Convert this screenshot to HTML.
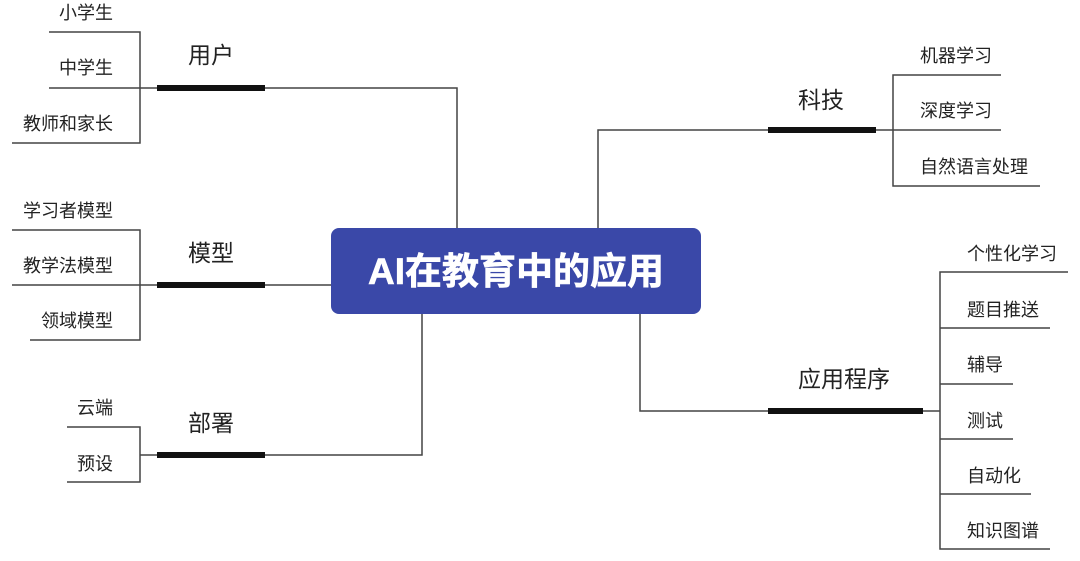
<!DOCTYPE html>
<html><head><meta charset="utf-8"><style>
html,body{margin:0;padding:0;background:#fff;width:1080px;height:561px;overflow:hidden}
svg text{font-family:"Liberation Sans","Noto Sans CJK SC",sans-serif;fill:#222}
.s{font-size:18px}.m{font-size:23px}
</style></head><body>
<svg width="1080" height="561" viewBox="0 0 1080 561" xmlns="http://www.w3.org/2000/svg">
<g stroke="#444" stroke-width="1.5" fill="none">
<polyline points="265,88 457,88 457,228"/>
<polyline points="49,32 140,32 140,143 12,143"/>
<line x1="49" y1="88" x2="157" y2="88"/>
<line x1="265" y1="285" x2="331" y2="285"/>
<polyline points="12,230 140,230 140,340 30,340"/>
<line x1="12" y1="285" x2="157" y2="285"/>
<polyline points="265,455 422,455 422,314"/>
<polyline points="67,427 140,427 140,482 67,482"/>
<line x1="140" y1="455" x2="157" y2="455"/>
<polyline points="598,228 598,130 768,130"/>
<polyline points="1001,75 893,75 893,186 1040,186"/>
<line x1="876" y1="130" x2="1001" y2="130"/>
<polyline points="640,314 640,411 768,411"/>
<polyline points="1068,272 940,272 940,549 1050,549"/>
<line x1="923" y1="411" x2="940" y2="411"/>
<line x1="940" y1="328" x2="1050" y2="328"/>
<line x1="940" y1="384" x2="1013" y2="384"/>
<line x1="940" y1="439" x2="1013" y2="439"/>
<line x1="940" y1="494" x2="1031" y2="494"/>
</g>
<g fill="#111">
<rect x="157" y="85" width="108" height="6"/>
<rect x="157" y="282" width="108" height="6"/>
<rect x="157" y="452" width="108" height="6"/>
<rect x="768" y="127" width="108" height="6"/>
<rect x="768" y="408" width="155" height="6"/>
</g>
<rect x="331" y="228" width="370" height="86" rx="8" fill="#3a48a8"/>
<text x="516" y="284" text-anchor="middle" style="font-size:37px;font-weight:bold;fill:#fff;stroke:#fff;stroke-width:0.6">AI在教育中的应用</text>
<text class="m" x="188" y="63">用户</text>
<text class="m" x="188" y="261">模型</text>
<text class="m" x="188" y="431">部署</text>
<text class="m" x="798" y="108">科技</text>
<text class="m" x="798" y="387">应用程序</text>
<g class="s" text-anchor="end">
<text x="113" y="19">小学生</text>
<text x="113" y="74">中学生</text>
<text x="113" y="130">教师和家长</text>
<text x="113" y="217">学习者模型</text>
<text x="113" y="272">教学法模型</text>
<text x="113" y="327">领域模型</text>
<text x="113" y="414">云端</text>
<text x="113" y="470">预设</text>
</g>
<g class="s">
<text x="920" y="62">机器学习</text>
<text x="920" y="117">深度学习</text>
<text x="920" y="173">自然语言处理</text>
<text x="967" y="260">个性化学习</text>
<text x="967" y="316">题目推送</text>
<text x="967" y="371">辅导</text>
<text x="967" y="427">测试</text>
<text x="967" y="482">自动化</text>
<text x="967" y="537">知识图谱</text>
</g>
</svg>
</body></html>
